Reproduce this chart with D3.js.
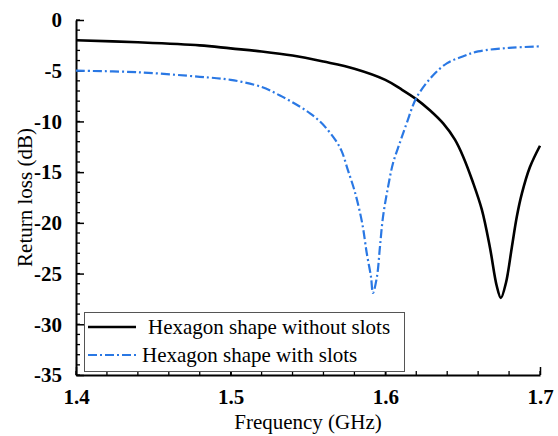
<!DOCTYPE html>
<html><head><meta charset="utf-8">
<script src="https://cdn.jsdelivr.net/npm/d3@7"></script>
<style>
html,body{margin:0;padding:0;background:#fff;}
svg{display:block;}
svg text{font-family:"Liberation Serif","Times New Roman",Tinos,"DejaVu Serif","Noto Serif",serif;}
</style></head>
<body>
<script>
const freqNoSlots = [1.40,1.44,1.48,1.50,1.52,1.54,1.56,1.58,1.60,1.61,1.62,1.6288,1.6374,1.645,1.6504,1.6564,1.6624,1.6676,1.672,1.6747,1.678,1.6818,1.685,1.6883,1.6935,1.70];
const rlNoSlots   = [-2.0,-2.2,-2.5,-2.8,-3.1,-3.5,-4.1,-4.8,-5.9,-6.8,-7.8,-8.9,-10.2,-11.8,-13.5,-15.9,-18.7,-22.4,-26.2,-27.4,-25.9,-22.4,-19.4,-17.1,-14.5,-12.4];
const freqSlots = [1.40,1.44,1.48,1.50,1.52,1.5319,1.5427,1.5513,1.5577,1.5631,1.568,1.5717,1.5758,1.5804,1.585,1.588,1.5907,1.592,1.5946,1.5965,1.5985,1.6017,1.605,1.6094,1.614,1.62,1.63,1.64,1.65,1.66,1.68,1.70];
const rlSlots   = [-5.0,-5.15,-5.6,-5.9,-6.6,-7.45,-8.35,-9.2,-10.0,-10.9,-11.9,-12.9,-14.8,-17.0,-20.0,-23.0,-25.3,-26.9,-25.3,-22.4,-19.4,-16.5,-14.1,-12.1,-10.1,-7.7,-5.6,-4.25,-3.6,-3.1,-2.75,-2.6];
const xTicks = [1.4,1.5,1.6,1.7];
const yTicks = [0,-5,-10,-15,-20,-25,-30,-35];
const seriesNames = ["Hexagon shape without slots","Hexagon shape with slots"];
const seriesColors = ["#000000","#2a78e4"];

const W=558,H=436;
const m={l:76,r:18,t:20,b:61};
const svg=d3.select("body").append("svg").attr("width",W).attr("height",H);
const x=d3.scaleLinear().domain([1.4,1.7]).range([m.l,W-m.r]);
const y=d3.scaleLinear().domain([-35,0]).range([H-m.b,m.t]);
const serif='"Liberation Serif","Times New Roman",Tinos,"DejaVu Serif","Noto Serif",serif';

// minor ticks
const xMinor=d3.range(1.4,1.7001,0.02);
const yMinor=d3.range(-35,0.001,1);
const g=svg.append("g");
g.selectAll(".xm").data(xMinor).join("line")
 .attr("x1",d=>x(d)).attr("x2",d=>x(d)).attr("y1",y(-35)).attr("y2",y(-35)-4)
 .attr("stroke","#000").attr("stroke-width",1.3);
g.selectAll(".ym").data(yMinor).join("line")
 .attr("y1",d=>y(d)).attr("y2",d=>y(d)).attr("x1",x(1.4)).attr("x2",x(1.4)+4)
 .attr("stroke","#000").attr("stroke-width",1.3);

const xAxis=d3.axisBottom(x).tickValues(xTicks).tickFormat(d3.format(".1f")).tickSizeInner(-8).tickSizeOuter(0).tickPadding(14);
const yAxis=d3.axisLeft(y).tickValues(yTicks).tickFormat(d=>d===0?"0":String(d)).tickSizeInner(-8).tickSizeOuter(0).tickPadding(14);
const gx=svg.append("g").attr("transform",`translate(0,${y(-35)})`).call(xAxis);
const gy=svg.append("g").attr("transform",`translate(${x(1.4)},0)`).call(yAxis);
[gx,gy].forEach(a=>{
  a.attr("font-family",serif);
  a.select(".domain").attr("stroke","#000").attr("stroke-width",2);
  a.selectAll(".tick line").attr("stroke","#000").attr("stroke-width",1.5);
  a.selectAll("text").style("font-family",serif).attr("font-weight","bold").attr("font-size",21).attr("fill","#000");
});
gx.selectAll("text").attr("dy","0.71em");

// lines
const line=d3.line().x(d=>x(d[0])).y(d=>y(d[1])).curve(d3.curveCatmullRom.alpha(0.5));
svg.append("path").datum(freqNoSlots.map((f,i)=>[f,rlNoSlots[i]]))
 .attr("d",line).attr("fill","none").attr("stroke",seriesColors[0]).attr("stroke-width",2.6);
svg.append("path").datum(freqSlots.map((f,i)=>[f,rlSlots[i]]))
 .attr("d",line).attr("fill","none").attr("stroke",seriesColors[1]).attr("stroke-width",2.2)
 .attr("stroke-dasharray","9,3,2,3");

// axis titles
svg.append("text").attr("x",(x(1.4)+x(1.7))/2).attr("y",429).attr("text-anchor","middle")
 .attr("font-size",21).text("Frequency (GHz)");
svg.append("text").attr("transform",`translate(32,${(y(0)+y(-35))/2}) rotate(-90)`).attr("text-anchor","middle")
 .attr("font-size",21).text("Return loss (dB)");

// legend
const lg=svg.append("g");
lg.append("rect").attr("x",84.5).attr("y",312.5).attr("width",320).attr("height",59)
 .attr("fill","#fff").attr("stroke","#555").attr("stroke-width",1);
lg.append("line").attr("x1",88).attr("x2",136).attr("y1",327).attr("y2",327).attr("stroke",seriesColors[0]).attr("stroke-width",2.6);
lg.append("line").attr("x1",88).attr("x2",136).attr("y1",355).attr("y2",355).attr("stroke",seriesColors[1]).attr("stroke-width",2.2).attr("stroke-dasharray","9,3,2,3");
lg.append("text").attr("x",148).attr("y",334).attr("font-size",21).text(seriesNames[0]);
lg.append("text").attr("x",142).attr("y",362).attr("font-size",21).text(seriesNames[1]);
</script>
</body></html>
